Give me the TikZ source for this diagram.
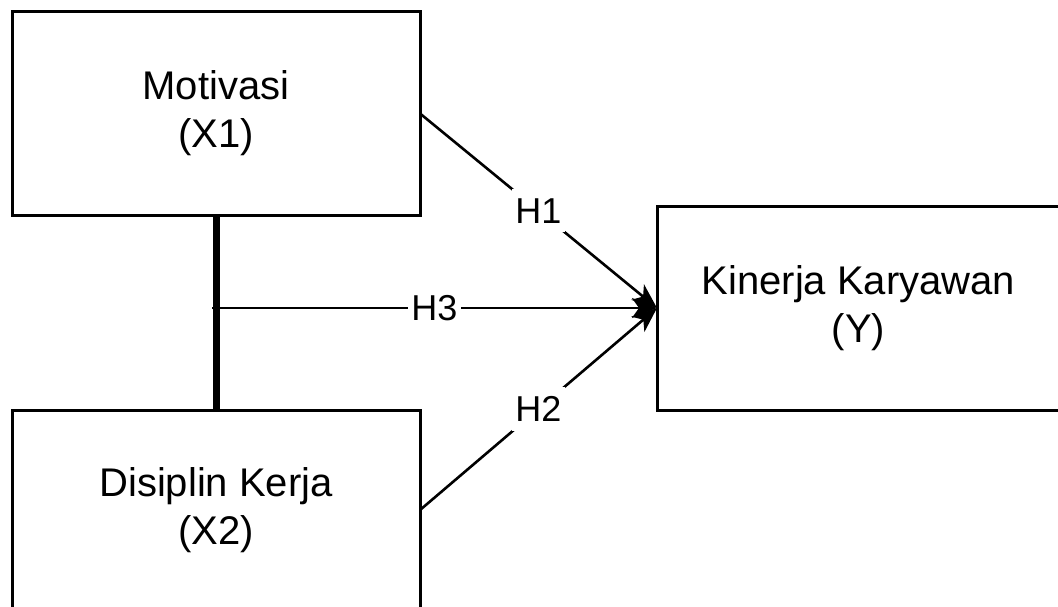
\documentclass[tikz,border=0pt]{standalone}
\usepackage{fontspec}
\setmainfont{Liberation Sans}
\usetikzlibrary{arrows.meta}
\begin{document}
\begin{tikzpicture}[x=1pt,y=-1pt,
  varbox/.style={draw, line width=3pt, inner sep=0pt, outer sep=0pt, align=center,
    font=\fontsize{40}{48}\selectfont},
  link/.style={line width=2.6pt, -{Stealth[length=25pt,width=20pt,inset=7pt]}},
  hyp/.style={midway, fill=white, inner xsep=3pt, inner ysep=9pt, font=\fontsize{36}{40}\selectfont}]
\useasboundingbox (0,0) rectangle (1058,607);
\clip (0,0) rectangle (1058,607);
\fill[white] (0,0) rectangle (1058,607);

% variables
\node[varbox, minimum width=408pt, minimum height=203pt] (mot) at (216,113.5) {Motivasi\\(X1)};
\node[varbox, minimum width=408pt, minimum height=200pt] (dis) at (216,510) {Disiplin Kerja\\(X2)};
\node[varbox, minimum width=403pt, minimum height=204pt] (kin) at (858.5,308) {Kinerja Karyawan\\(Y)};

% joint effect bar between X1 and X2
\draw[line width=7pt] (mot.south) -- (dis.north);
\coordinate (joint) at (212,308);

% hypotheses
\draw[link] (mot.east) -- node[hyp] {H1} (kin.west);
\draw[link] (dis.east) -- node[hyp] {H2} (kin.west);
\draw[link] (joint) -- node[hyp] {H3} (kin.west);
\end{tikzpicture}
\end{document}
